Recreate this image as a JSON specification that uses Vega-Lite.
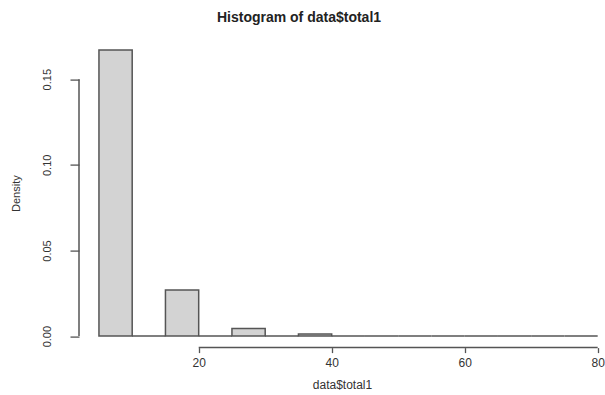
{
  "$schema": "https://vega.github.io/schema/vega-lite/v6.json",
  "width": 526,
  "height": 309,
  "autosize": {"type": "none"},
  "padding": {"left": 79, "top": 38.6, "right": 0, "bottom": 47.4},
  "background": "white",
  "config": {"view": {"stroke": null}, "font": "Liberation Sans"},
  "title": {
    "text": "Histogram of data$total1",
    "fontSize": 14,
    "fontWeight": "bold",
    "color": "#222",
    "anchor": "middle",
    "dx": -43,
    "offset": 14
  },
  "datasets": {
    "bins": [
      {"start": 5, "end": 10, "density": 0.167},
      {"start": 10, "end": 15, "density": 0},
      {"start": 15, "end": 20, "density": 0.0269},
      {"start": 20, "end": 25, "density": 0},
      {"start": 25, "end": 30, "density": 0.0044},
      {"start": 30, "end": 35, "density": 0},
      {"start": 35, "end": 40, "density": 0.0013},
      {"start": 40, "end": 45, "density": 0},
      {"start": 45, "end": 50, "density": 0},
      {"start": 50, "end": 55, "density": 0},
      {"start": 55, "end": 60, "density": 0},
      {"start": 60, "end": 65, "density": 0},
      {"start": 65, "end": 70, "density": 0},
      {"start": 70, "end": 75, "density": 0},
      {"start": 75, "end": 80, "density": 0}
    ],
    "axislines": [
      {"xa": 20, "xb": 80, "ya": -0.0067, "yb": -0.0067},
      {"xa": 2, "xb": 2, "ya": 0, "yb": 0.15}
    ]
  },
  "layer": [
    {
      "data": {"name": "bins"},
      "mark": {"type": "rect", "fill": "#D3D3D3", "stroke": "#555", "strokeWidth": 1.5},
      "encoding": {
        "x": {
          "field": "start", "type": "quantitative",
          "scale": {"domain": [2, 81.1], "nice": false, "zero": false},
          "axis": {
            "title": "data$total1",
            "values": [20, 40, 60, 80],
            "domain": false,
            "tickSize": 5,
            "tickColor": "#555",
            "tickWidth": 1.3,
            "labelFontSize": 12,
            "labelColor": "#333",
            "labelPadding": 5,
            "labelFlush": false,
            "titleFontSize": 12,
            "titleFontWeight": "normal",
            "titleColor": "#333",
            "titlePadding": 11,
            "grid": false
          }
        },
        "x2": {"field": "end"},
        "y": {
          "field": "density", "type": "quantitative",
          "scale": {"domain": [-0.0067, 0.1737], "nice": false, "zero": false},
          "axis": {
            "title": "Density",
            "values": [0, 0.05, 0.1, 0.15],
            "format": ".2f",
            "domain": false,
            "tickSize": 9,
            "tickColor": "#555",
            "tickWidth": 1.3,
            "labelAngle": -90,
            "labelAlign": "center",
            "labelBaseline": "bottom",
            "labelFontSize": 11,
            "labelColor": "#333",
            "labelPadding": 18,
            "labelFlush": false,
            "titleFontSize": 11,
            "titleFontWeight": "normal",
            "titleColor": "#333",
            "titlePadding": 20,
            "grid": false
          }
        },
        "y2": {"datum": 0}
      }
    },
    {
      "data": {"name": "axislines"},
      "mark": {"type": "rule", "stroke": "#555", "strokeWidth": 1.5},
      "encoding": {
        "x": {"field": "xa", "type": "quantitative"},
        "x2": {"field": "xb"},
        "y": {"field": "ya", "type": "quantitative"},
        "y2": {"field": "yb"}
      }
    }
  ]
}
